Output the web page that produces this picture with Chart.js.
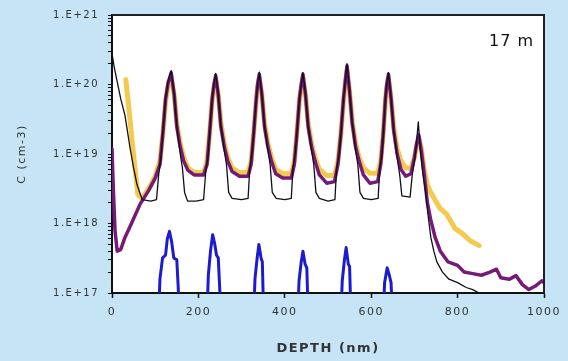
<!DOCTYPE html>
<html><head><meta charset="utf-8">
<script src="https://cdn.jsdelivr.net/npm/chart.js@4.4.0/dist/chart.umd.min.js"></script>
<style>html,body{margin:0;padding:0;background:#c6e4f6;overflow:hidden}#wrap{width:568px;height:361px}</style>
</head><body><div id="wrap"><canvas id="c" width="568" height="361"></canvas></div>
<script>
// ---- data ----
const purpleDepth = [0,3,7,12,20,30,45,65,85,100,111,118,124,130,137,144,150,158,166,176,190,212,220,226,232,236,240,246,252,260,268,278,295,315,322,328,334,337,341,347,353,361,369,379,395,415,422,428,434,438,442,448,454,462,470,480,497,515,523,530,536,540,544,550,556,564,572,582,597,615,622,628,633,636,640,646,652,660,669,680,692,700,705,710,716,722,730,738,748,760,778,800,815,835,855,875,890,900,920,935,950,965,980,995,1000];
const purpleConc = [1.2e19,3.2e18,7.9e17,4.0e17,4.2e17,6.3e17,1.0e18,1.9e18,3.0e18,4.5e18,7.1e18,2.1e19,6.2e19,1.07e20,1.48e20,7.1e19,2.5e19,1.26e19,7.9e18,5.8e18,5.0e18,5.0e18,7.1e18,2.0e19,6.3e19,1.0e20,1.35e20,7.1e19,2.5e19,1.26e19,7.9e18,5.6e18,4.8e18,4.8e18,7.1e18,2.0e19,6.3e19,1.0e20,1.41e20,7.1e19,2.5e19,1.26e19,7.9e18,5.2e18,4.5e18,4.5e18,7.1e18,2.0e19,6.3e19,1.0e20,1.41e20,7.1e19,2.5e19,1.26e19,7.9e18,5.0e18,3.8e18,4.0e18,7.1e18,2.0e19,6.3e19,1.12e20,1.86e20,7.9e19,2.8e19,1.26e19,7.9e18,5.0e18,3.8e18,4.0e18,7.1e18,2.0e19,6.3e19,1.0e20,1.41e20,6.3e19,2.2e19,1.0e19,6.0e18,4.8e18,5.2e18,8.9e18,1.41e19,1.9e19,1.12e19,5.6e18,2.0e18,1.12e18,6.3e17,4.0e17,2.8e17,2.5e17,2.0e17,1.9e17,1.8e17,2.0e17,2.2e17,1.66e17,1.58e17,1.78e17,1.32e17,1.12e17,1.26e17,1.5e17,1.4e17];

const blackDepth = [0,5,12,20,30,42,50,58,70,90,103,108,114,118,124,130,137,144,150,158,163,168,175,195,212,217,222,226,232,236,240,246,252,260,265,270,278,300,315,319,324,328,334,337,341,347,353,361,366,371,380,400,415,419,424,428,434,438,442,448,454,462,467,472,480,500,516,520,526,530,536,540,544,550,556,564,569,574,582,600,616,620,625,628,633,636,640,646,652,660,666,671,690,695,700,704,709,714,720,726,732,738,745,752,765,780,800,820,835,850];
const blackConc = [2.8e20,1.8e20,1.1e20,6.3e19,3.6e19,1.2e19,6.3e18,3.6e18,2.2e18,2.1e18,2.2e18,5.0e18,1.0e19,2.2e19,6.3e19,1.12e20,1.58e20,7.1e19,2.5e19,1.0e19,6.3e18,2.8e18,2.1e18,2.1e18,2.2e18,5.6e18,8.9e18,2.0e19,6.3e19,1.0e20,1.45e20,7.1e19,2.5e19,1.12e19,7.1e18,2.8e18,2.3e18,2.2e18,2.3e18,6.3e18,1.0e19,2.0e19,6.3e19,1.0e20,1.5e20,7.1e19,2.5e19,1.12e19,7.1e18,2.8e18,2.3e18,2.2e18,2.3e18,6.3e18,1.0e19,2.0e19,6.3e19,1.0e20,1.48e20,7.1e19,2.5e19,1.12e19,7.1e18,2.8e18,2.3e18,2.1e18,2.2e18,6.3e18,1.0e19,2.0e19,6.3e19,1.12e20,2.0e20,7.9e19,2.8e19,1.12e19,7.1e18,2.8e18,2.3e18,2.2e18,2.3e18,6.3e18,1.0e19,2.0e19,6.3e19,1.0e20,1.48e20,6.3e19,2.2e19,8.9e18,5.0e18,2.5e18,2.4e18,5.0e18,7.9e18,1.26e19,2.9e19,1.12e19,5.0e18,2.8e18,1.26e18,6.3e17,4.0e17,2.8e17,2.0e17,1.58e17,1.41e17,1.2e17,1.12e17,1.0e17];

const yellowDepth = [32,40,48,55,60,70,85,100,111,118,124,130,137,144,150,158,166,176,190,212,220,226,232,236,240,246,252,260,268,278,295,315,322,328,334,337,341,347,353,361,369,379,395,415,422,428,434,438,442,448,454,462,470,480,497,515,523,530,536,540,544,550,556,564,572,582,597,615,622,628,633,636,640,646,652,660,669,680,692,700,705,710,716,722,730,738,759,775,794,812,830,850];
const yellowConc = [1.17e20,4.0e19,1.26e19,5.0e18,2.6e18,2.3e18,3.2e18,4.8e18,7.9e18,2.0e19,5.6e19,1.0e20,1.3e20,7.1e19,2.8e19,1.4e19,8.9e18,6.3e18,5.4e18,5.4e18,7.9e18,2.0e19,6.0e19,9.0e19,1.2e20,7.1e19,2.8e19,1.4e19,8.9e18,6.3e18,5.4e18,5.4e18,7.9e18,2.0e19,6.0e19,9.0e19,1.25e20,7.1e19,2.8e19,1.4e19,8.9e18,6.0e18,5.2e18,5.2e18,7.9e18,2.0e19,6.0e19,9.0e19,1.25e20,7.1e19,2.8e19,1.4e19,8.9e18,6.0e18,4.9e18,4.9e18,7.9e18,2.0e19,6.0e19,1.0e20,1.6e20,7.9e19,3.0e19,1.4e19,8.9e18,6.3e18,5.3e18,5.3e18,7.9e18,2.0e19,6.0e19,9.0e19,1.25e20,6.3e19,2.5e19,1.2e19,7.9e18,6.3e18,6.3e18,8.9e18,1.3e19,1.7e19,1.2e19,6.3e18,3.6e18,2.8e18,1.66e18,1.35e18,8.5e17,7.1e17,5.6e17,4.8e17];

const blueDepth = [0,108,111,117,124,128,133,138,143,150,153,156,220,223,228,233,238,242,246,249,252,328,331,336,340,345,348,351,430,433,438,442,447,451,454,530,533,538,542,547,550,553,628,631,637,642,646,649,1000];
const blueConc = [5e16,5e16,1.6e17,3.2e17,3.5e17,6.0e17,7.7e17,5.5e17,3.2e17,3.0e17,1.3e17,5e16,5e16,1.8e17,4.0e17,6.9e17,5.0e17,3.5e17,3.2e17,1.3e17,5e16,5e16,1.6e17,3.2e17,5.0e17,3.2e17,2.8e17,5e16,5e16,1.5e17,2.8e17,4.0e17,2.6e17,2.3e17,5e16,5e16,1.5e17,3.0e17,4.5e17,2.6e17,2.4e17,5e16,5e16,1.4e17,2.3e17,1.8e17,1.4e17,5e16,5e16];

const xTickValues = [0,200,400,600,800,1000];
const xTickLabels = ['0','200','400','600','800','1000'];
const yDecades = [1e17,1e18,1e19,1e20,1e21];
const yDecadeLabels = ['1.E+17','1.E+18','1.E+19','1.E+20','1.E+21'];
const xTitle = 'DEPTH (nm)';
const yTitle = 'C (cm-3)';
const panelLabel = '17 m';

// ---- chart ----
const pts = (xs, ys) => xs.map((x, i) => ({x, y: ys[i]}));
const yTickList = [];
yDecades.forEach((d, i) => {
  yTickList.push(d);
  if (i < yDecades.length - 1) for (let m = 2; m <= 9; m++) yTickList.push(m * d);
});

const decor = {
  id: 'decor',
  beforeDraw(chart) {
    const {ctx, chartArea: a} = chart;
    ctx.save();
    ctx.fillStyle = '#ffffff';
    ctx.fillRect(a.left, a.top, a.right - a.left, a.bottom - a.top);
    ctx.restore();
    ctx.letterSpacing = '1.5px';
  },
  afterDraw(chart) {
    const {ctx, chartArea: a} = chart;
    ctx.save();
    ctx.strokeStyle = '#222';
    ctx.lineWidth = 2;
    ctx.beginPath();
    ctx.moveTo(a.left, a.top);
    ctx.lineTo(a.right, a.top);
    ctx.lineTo(a.right, a.bottom);
    ctx.stroke();
    ctx.letterSpacing = '1px';
    ctx.font = '16px "DejaVu Sans"';
    ctx.fillStyle = '#111';
    ctx.textAlign = 'right';
    ctx.textBaseline = 'alphabetic';
    ctx.fillText(panelLabel, a.right - 10, a.top + 31);
    ctx.restore();
  }
};

new Chart(document.getElementById('c'), {
  type: 'line',
  data: {
    datasets: [
      {data: pts(blueDepth, blueConc), borderColor: '#1c1ccc', borderWidth: 3, order: 1},
      {data: pts(blackDepth, blackConc), borderColor: '#10101c', borderWidth: 1.3, order: 2},
      {data: pts(purpleDepth, purpleConc), borderColor: '#761a78', borderWidth: 3.5, order: 3},
      {data: pts(yellowDepth, yellowConc), borderColor: 'rgba(242,192,46,0.85)', borderWidth: 5, order: 4}
    ]
  },
  options: {
    responsive: false,
    animation: false,
    devicePixelRatio: 1,
    parsing: false,
    elements: {point: {radius: 0}, line: {tension: 0, borderJoinStyle: 'round', borderCapStyle: 'round'}},
    layout: {padding: {top: 12, right: 24, left: 0, bottom: 0}},
    plugins: {legend: {display: false}, tooltip: {enabled: false}},
    scales: {
      x: {
        type: 'linear', min: 0, max: 1000,
        afterBuildTicks: s => { s.ticks = xTickValues.map(v => ({value: v})); },
        ticks: {
          color: '#333', font: {family: 'DejaVu Sans', size: 11}, padding: 8, maxRotation: 0, autoSkip: false,
          callback: v => { const i = xTickValues.indexOf(v); return i >= 0 ? xTickLabels[i] : ''; }
        },
        grid: {drawOnChartArea: false, tickLength: 5, tickColor: '#111', tickWidth: 1.5},
        border: {color: '#111', width: 2},
        title: {display: true, text: xTitle, color: '#333', font: {family: 'DejaVu Sans', size: 13, weight: 'bold'}, padding: {top: 0, bottom: 5}},
        afterFit: s => { s.height = 68; }
      },
      y: {
        type: 'logarithmic', min: 1e17, max: 1e21,
        afterBuildTicks: s => { s.ticks = yTickList.map(v => ({value: v})); },
        ticks: {
          color: '#333', font: {family: 'DejaVu Sans', size: 10}, padding: 9, autoSkip: false,
          callback: v => { const i = yDecades.indexOf(v); return i >= 0 ? yDecadeLabels[i] : ''; }
        },
        grid: {drawOnChartArea: false, tickLength: 4, tickColor: '#111', tickWidth: 1},
        border: {color: '#111', width: 2},
        title: {display: true, text: yTitle, color: '#333', font: {family: 'DejaVu Sans', size: 11}, padding: {top: 16, bottom: 0}},
        afterFit: s => { s.width = 112; }
      }
    }
  },
  plugins: [decor]
});
</script></body></html>
